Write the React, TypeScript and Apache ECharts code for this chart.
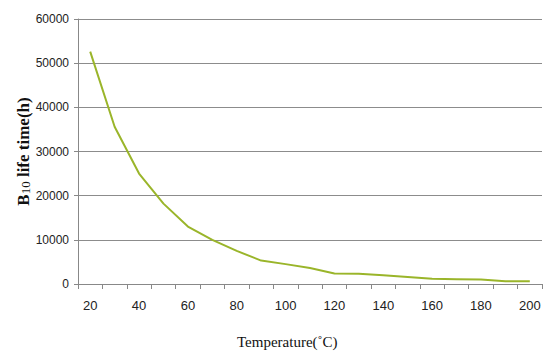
import React, { useEffect, useRef } from "react";
import * as echarts from "echarts";

const temperatures = ["20","30","40","50","60","70","80","90","100","110","120","130","140","150","160","170","180","190","200"];
const lifeTime = [52600, 35600, 25000, 18200, 13000, 10000, 7500, 5300, 4500, 3600, 2400, 2300, 2000, 1600, 1200, 1100, 1000, 600, 600];
const yTicks = { min: 0, max: 60000, interval: 10000 };

export default function App() {
  const ref = useRef<HTMLDivElement>(null);
  useEffect(() => {
    const chart = echarts.init(ref.current!, null, { renderer: "svg" });
    const labelFont = "'Liberation Sans Narrow', 'Liberation Sans', sans-serif";
    const serif = "'Liberation Serif', 'Times New Roman', serif";
    chart.setOption({
      animation: false,
      backgroundColor: "#ffffff",
      grid: { left: 78, right: 2, top: 19, bottom: 70 },
      xAxis: {
        type: "category",
        data: temperatures,
        boundaryGap: true,
        axisLine: { lineStyle: { color: "#888888", width: 1 } },
        axisTick: { show: true, interval: 0, length: 5, lineStyle: { color: "#888888" } },
        axisLabel: { interval: 1, margin: 15, color: "#222222", fontSize: 13, fontFamily: labelFont },
        splitLine: { show: false },
      },
      yAxis: {
        type: "value",
        min: yTicks.min,
        max: yTicks.max,
        interval: yTicks.interval,
        name: "B{sub|10} life time(h)",
        nameLocation: "middle",
        nameGap: 46,
        nameRotate: 90,
        nameMoveOverlap: false,
        nameTextStyle: {
          color: "#111111",
          fontFamily: serif,
          fontWeight: "bold",
          fontSize: 17,
          rich: {
            sub: {
              fontFamily: serif,
              fontWeight: "normal",
              fontSize: 13,
              color: "#111111",
              padding: [4, 0, 0, 0],
            },
          },
        },
        axisLine: { show: true, lineStyle: { color: "#888888", width: 1 } },
        axisTick: { show: true, length: 4, lineStyle: { color: "#888888" } },
        axisLabel: {
          margin: 9,
          color: "#222222",
          fontSize: 12,
          fontFamily: labelFont,
          formatter: (v: number) => String(v),
        },
        splitLine: { show: true, lineStyle: { color: "#8c8c8c", width: 1 } },
      },
      graphic: [
        {
          type: "text",
          left: 237,
          top: 334,
          style: {
            text: "Temperature(˚C)",
            font: "15px " + serif,
            fill: "#111111",
          },
        },
      ],
      series: [
        {
          type: "line",
          data: lifeTime,
          symbol: "none",
          smooth: false,
          lineStyle: { color: "#9ab52a", width: 2 },
        },
      ],
    });
    return () => chart.dispose();
  }, []);
  return <div ref={ref} style={{ position: "fixed", left: 0, top: 0, width: 544, height: 354 }} />;
}
